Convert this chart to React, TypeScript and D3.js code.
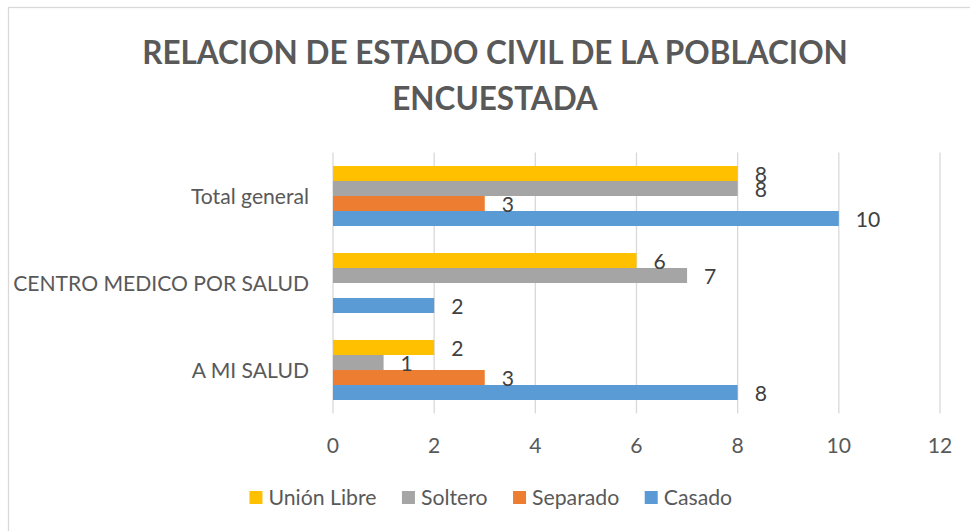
import React, { useMemo } from "react";
import * as d3 from "d3";

const categories = ["Total general", "CENTRO MEDICO POR SALUD", "A MI SALUD"];
const seriesNames = ["Unión Libre", "Soltero", "Separado", "Casado"];
const unionLibre: (number | null)[] = [8, 6, 2];
const soltero: (number | null)[] = [8, 7, 1];
const separado: (number | null)[] = [3, null, 3];
const casado: (number | null)[] = [10, 2, 8];
const xTicks = [0, 2, 4, 6, 8, 10, 12];
const titleLines = ["RELACION DE ESTADO CIVIL DE LA POBLACION", "ENCUESTADA"];

const seriesValues = [unionLibre, soltero, separado, casado];
const colors = ["#FFC000", "#A5A5A5", "#ED7D31", "#5B9BD5"];

const FONT = "Lato, 'Liberation Sans', sans-serif";

function measure(text: string, size: number, weight = "normal") {
  const c = document.createElement("canvas");
  const ctx = c.getContext("2d")!;
  ctx.font = `${weight} ${size}px Lato`;
  return ctx.measureText(text).width;
}

export default function App() {
  const W = 970;
  const H = 531;

  const sizes = useMemo(() => {
    const catA = (283 / measure("CENTRO MEDICO POR SALUD", 100)) * 100;
    const catB = (126 / measure("Total general", 100)) * 100;
    const cat = catA * 0.6 + catB * 0.4;
    const title = (708 / measure(titleLines[0], 100, "bold")) * 100;
    const leg = (108 / measure("Unión Libre", 100)) * 100;
    return { cat, title, leg };
  }, []);

  const x = d3.scaleLinear().domain([0, 12]).range([333, 940]);
  const y0 = d3.scaleBand<string>().domain(categories).range([152.5, 413.5]).padding(0);
  const y1 = d3
    .scaleBand<string>()
    .domain(seriesNames)
    .range([0, y0.bandwidth()])
    .paddingInner(0)
    .paddingOuter(0.9);

  const legendItems = useMemo(() => {
    const widths = seriesNames.map((s) => measure(s, sizes.leg));
    const sq = 13, gap = 6, sep = 25.5;
    const total = widths.reduce((a, w) => a + sq + gap + w, 0) + sep * (widths.length - 1);
    let cx = 490.8 - total / 2;
    return widths.map((w, i) => {
      const item = { x: cx, name: seriesNames[i], color: colors[i] };
      cx += sq + gap + w + sep;
      return item;
    });
  }, [sizes]);

  const textColor = "#595959";

  return (
    <svg
      width={W}
      height={H}
      style={{ position: "absolute", left: 0, top: 0, background: "#fff" }}
      fontFamily={FONT}
    >
      <rect x={0} y={0} width={W} height={H} fill="#fff" />
      <rect x={8.5} y={7.5} width={W + 20} height={H + 20} fill="#fff" stroke="#D9D9D9" strokeWidth={1.3} />

      {titleLines.map((t, i) => (
        <text
          key={i}
          x={495}
          y={63.5 + i * 46}
          textAnchor="middle"
          fontWeight="bold"
          fontSize={sizes.title}
          fill={textColor}
        >
          {t}
        </text>
      ))}

      {xTicks.map((t) => (
        <line
          key={t}
          x1={x(t)}
          x2={x(t)}
          y1={152.5}
          y2={413.5}
          stroke="#D9D9D9"
          strokeWidth={1.3}
        />
      ))}

      {categories.map((c, ci) =>
        seriesNames.map((s, si) => {
          const v = seriesValues[si][ci];
          if (v === null) return null;
          const yy = (y0(c) as number) + (y1(s) as number);
          return (
            <rect
              key={c + s}
              x={x(0)}
              y={yy}
              width={x(v) - x(0)}
              height={y1.bandwidth()}
              fill={colors[si]}
            />
          );
        })
      )}

      {categories.map((c, ci) =>
        seriesNames.map((s, si) => {
          const v = seriesValues[si][ci];
          if (v === null) return null;
          const yy = (y0(c) as number) + (y1(s) as number) + y1.bandwidth() / 2;
          return (
            <text
              key={"l" + c + s}
              x={x(v) + 17}
              y={yy + 8.5}
              fontSize={sizes.cat}
              fill="#404040"
            >
              {v}
            </text>
          );
        })
      )}

      {categories.map((c) => (
        <text
          key={"c" + c}
          x={309}
          y={(y0(c) as number) + y0.bandwidth() / 2 + 8}
          textAnchor="end"
          fontSize={sizes.cat}
          fill={textColor}
        >
          {c}
        </text>
      ))}

      {xTicks.map((t) => (
        <text
          key={"t" + t}
          x={x(t)}
          y={452.5}
          textAnchor="middle"
          fontSize={sizes.cat}
          fill={textColor}
        >
          {t}
        </text>
      ))}

      {legendItems.map((it) => (
        <g key={it.name}>
          <rect x={it.x} y={491} width={13} height={13} fill={it.color} />
          <text x={it.x + 19} y={505} fontSize={sizes.leg} fill={textColor}>
            {it.name}
          </text>
        </g>
      ))}
    </svg>
  );
}
